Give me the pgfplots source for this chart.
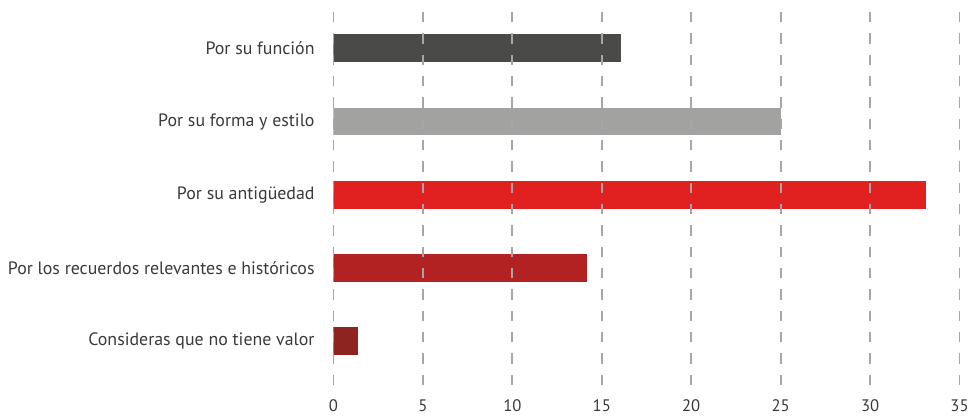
\documentclass[border=0pt]{standalone}
\usepackage{pgfplots}
\pgfplotsset{compat=1.18}
\usepackage{fontspec}
\setmainfont{PT Sans}
\usetikzlibrary{calc}
\definecolor{txt}{HTML}{3A3A3A}
\definecolor{cA}{HTML}{4A4A49}
\definecolor{cB}{HTML}{A2A2A1}
\definecolor{cC}{HTML}{E1211F}
\definecolor{cD}{HTML}{B22222}
\definecolor{cE}{HTML}{8E2420}
\definecolor{grd}{HTML}{A6A6A6}
\begin{document}
\begin{tikzpicture}[font=\fontsize{13.4}{15}\selectfont]
\begin{axis}[
  name=ax,
  scale only axis,
  width=469.5pt, height=280pt,
  xmin=0, xmax=35, ymin=-0.6, ymax=4.5,
  xbar, bar width=0.38, bar shift=0pt,
  axis on top,
  axis line style={draw=none},
  major tick length=0pt,
  xtick={0,5,...,35},
  ytick={0,1,2,3,4},
  yticklabels={Consideras que no tiene valor, Por los recuerdos relevantes e históricos, Por su antigüedad, Por su forma y estilo, Por su función},
  xmajorgrids=true,
  major grid style={grd, line width=1.4pt, dash pattern=on 7.9pt off 8.1pt},
  ticklabel style={text=txt},
  yticklabel style={inner sep=0pt, xshift=-14pt},
  xticklabel style={inner sep=0pt, yshift=-10.5pt, font=\fontsize{12.5}{14}\selectfont},
  /pgf/number format/assume math mode=true,
]
\addplot[draw=none, fill=cA] coordinates {(16.05,4)};
\addplot[draw=none, fill=cB] coordinates {(25.0,3)};
\addplot[draw=none, fill=cC] coordinates {(33.15,2)};
\addplot[draw=none, fill=cD] coordinates {(14.15,1)};
\addplot[draw=none, fill=cE] coordinates {(1.38,0)};
\end{axis}
\pgfresetboundingbox
\path[use as bounding box] ($(ax.south west)+(-250.1pt,-23.25pt)$) rectangle ($(ax.north east)+(7.1pt,8.8pt)$);
\end{tikzpicture}
\end{document}
